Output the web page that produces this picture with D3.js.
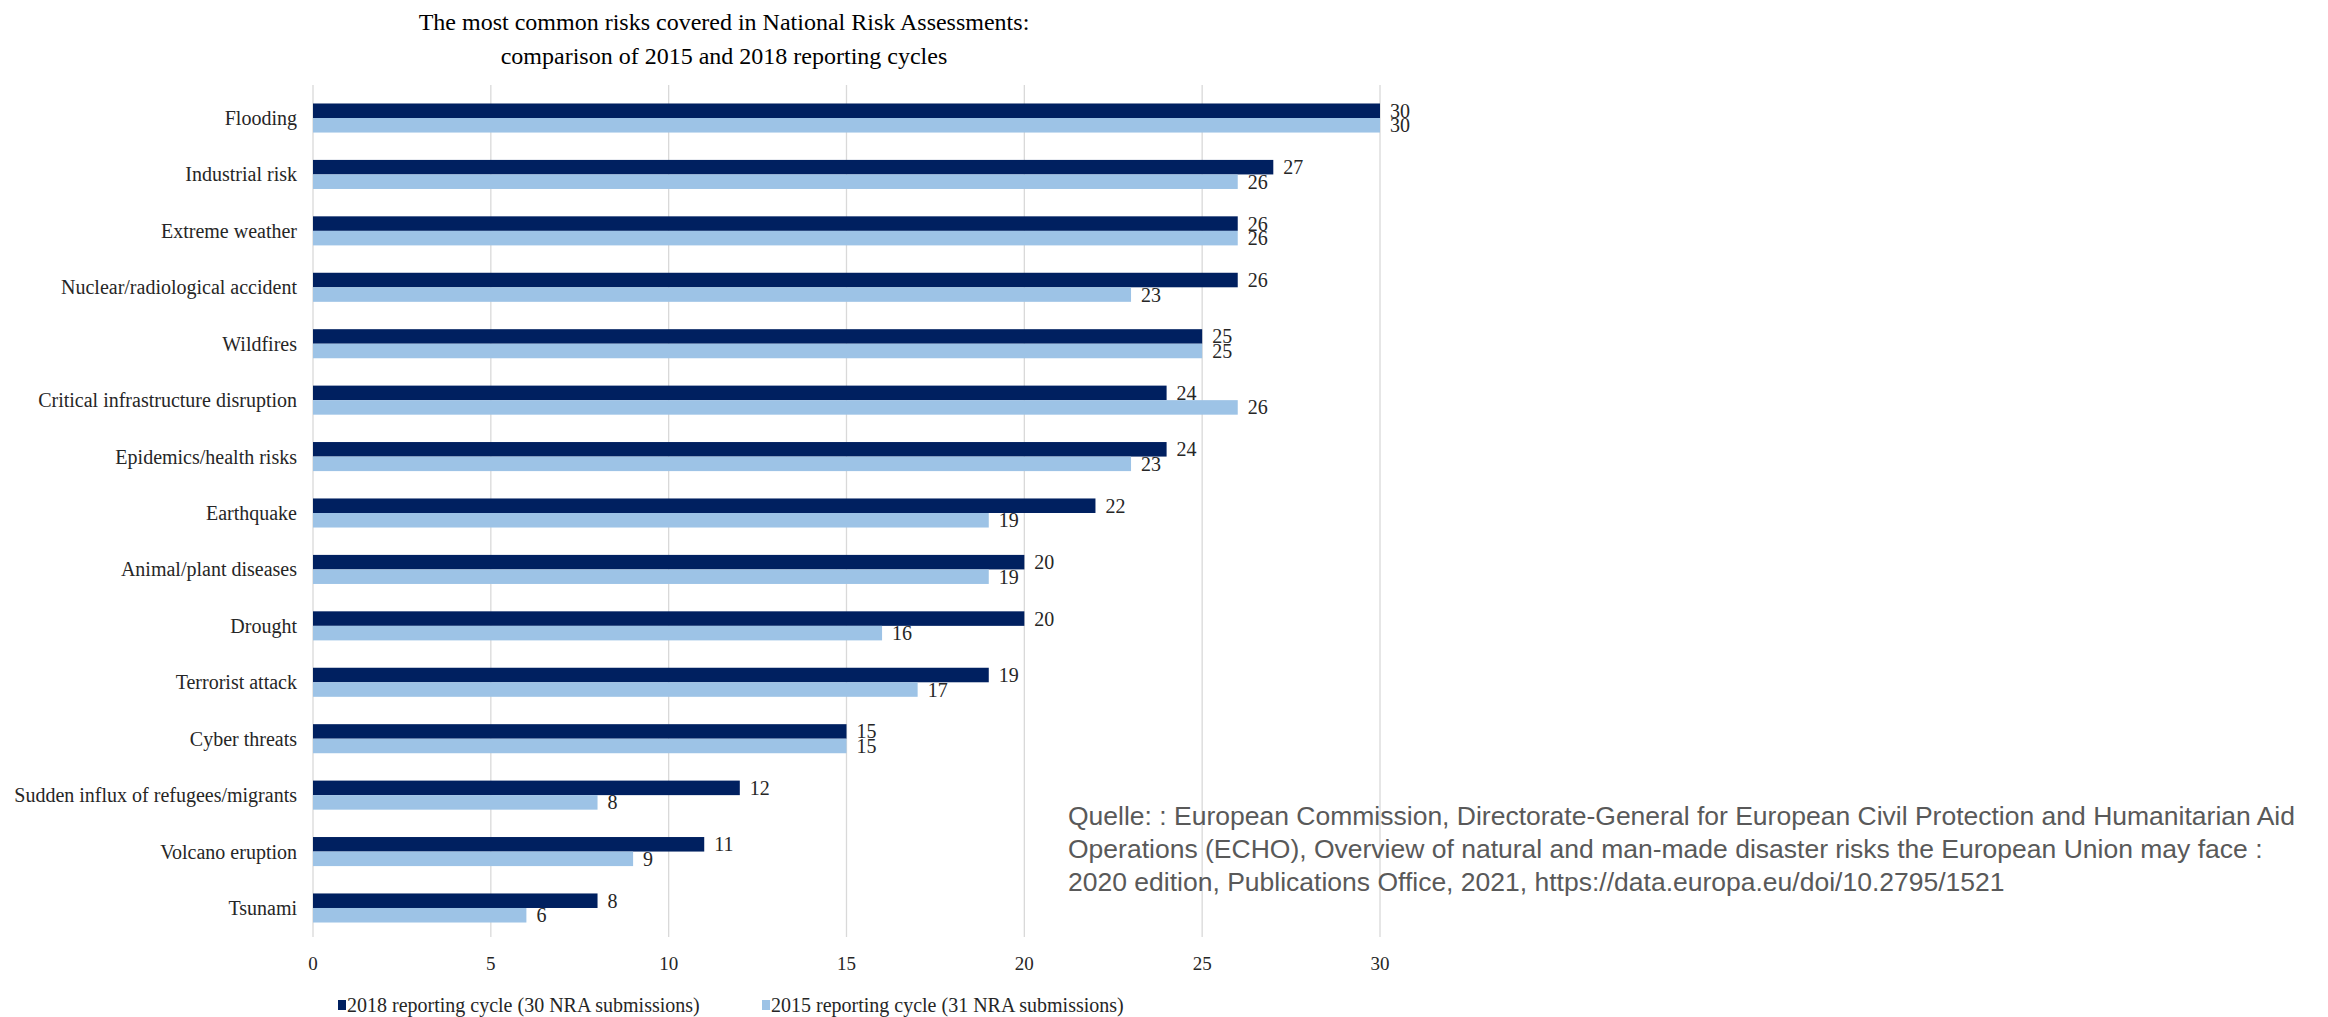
<!DOCTYPE html>
<html>
<head>
<meta charset="utf-8">
<script src="https://cdn.jsdelivr.net/npm/d3@7"></script>
<style>
  html, body { margin: 0; padding: 0; background: #fff; }
  svg { display: block; }
</style>
</head>
<body>
<svg id="chart" width="2328" height="1017"></svg>
<script>
const categories = [
  "Flooding", "Industrial risk", "Extreme weather", "Nuclear/radiological accident",
  "Wildfires", "Critical infrastructure disruption", "Epidemics/health risks",
  "Earthquake", "Animal/plant diseases", "Drought", "Terrorist attack",
  "Cyber threats", "Sudden influx of refugees/migrants", "Volcano eruption", "Tsunami"
];
const values2018 = [30, 27, 26, 26, 25, 24, 24, 22, 20, 20, 19, 15, 12, 11, 8];
const values2015 = [30, 26, 26, 23, 25, 26, 23, 19, 19, 16, 17, 15, 8, 9, 6];
const seriesNames = ["2018 reporting cycle (30 NRA submissions)", "2015 reporting cycle (31 NRA submissions)"];
const tickValues = [0, 5, 10, 15, 20, 25, 30];
const titleLines = [
  "The most common risks covered in National Risk Assessments:",
  "comparison of 2015 and 2018 reporting cycles"
];
const sourceLines = [
  "Quelle: : European Commission, Directorate-General for European Civil Protection and Humanitarian Aid",
  "Operations (ECHO), Overview of natural and man-made disaster risks the European Union may face :",
  "2020 edition, Publications Office, 2021, https://data.europa.eu/doi/10.2795/1521"
];

const colors = ["#002060", "#9DC3E6"];
const serif = "'Liberation Serif', 'Times New Roman', serif";
const sans = "'Liberation Sans', Arial, sans-serif";

const svg = d3.select("#chart");

const x = d3.scaleLinear().domain([0, 30]).range([313, 1380]);
const y = d3.scaleBand().domain(categories).range([89.8, 936.2]).paddingInner(0.485).paddingOuter(0.2425);
const ySub = d3.scaleBand().domain([0, 1]).range([0, y.bandwidth()]);

// Title
svg.append("g").selectAll("text").data(titleLines).join("text")
  .attr("x", 724).attr("y", (d, i) => 30 + i * 34)
  .attr("text-anchor", "middle")
  .style("font-family", serif).style("font-size", "24px").style("fill", "#000")
  .text(d => d);

// Gridlines
svg.append("g").selectAll("line").data(tickValues).join("line")
  .attr("x1", d => x(d)).attr("x2", d => x(d))
  .attr("y1", 85).attr("y2", 937)
  .attr("stroke", "#d9d9d9").attr("stroke-width", 1.3);

// Tick labels
svg.append("g").selectAll("text").data(tickValues).join("text")
  .attr("x", d => x(d)).attr("y", 970)
  .attr("text-anchor", "middle")
  .style("font-family", serif).style("font-size", "19px").style("fill", "#262626")
  .text(d => d);

// Category labels
svg.append("g").selectAll("text").data(categories).join("text")
  .attr("x", 297).attr("y", d => y(d) + y.bandwidth() / 2)
  .attr("dy", "0.35em")
  .attr("text-anchor", "end")
  .style("font-family", serif).style("font-size", "20px").style("fill", "#262626")
  .text(d => d);

// Bars
const rows = categories.map((c, i) => ({ c, vals: [values2018[i], values2015[i]] }));
const g = svg.append("g").selectAll("g").data(rows).join("g")
  .attr("transform", d => `translate(0,${y(d.c)})`);

g.selectAll("rect").data(d => d.vals.map((v, k) => ({ v, k }))).join("rect")
  .attr("x", x(0))
  .attr("y", d => ySub(d.k))
  .attr("width", d => x(d.v) - x(0))
  .attr("height", ySub.bandwidth())
  .attr("fill", d => colors[d.k]);

g.selectAll("text").data(d => d.vals.map((v, k) => ({ v, k }))).join("text")
  .attr("x", d => x(d.v) + 10)
  .attr("y", d => ySub(d.k) + ySub.bandwidth() / 2)
  .attr("dy", "0.35em")
  .style("font-family", serif).style("font-size", "20px").style("fill", "#262626")
  .text(d => d.v);

// Legend
const legendX = [338, 762];
const leg = svg.append("g").selectAll("g").data(seriesNames).join("g")
  .attr("transform", (d, i) => `translate(${legendX[i]},0)`);
leg.append("rect").attr("x", 0).attr("y", 1000).attr("width", 8).attr("height", 10)
  .attr("fill", (d, i) => colors[i]);
leg.append("text").attr("x", 9).attr("y", 1012)
  .style("font-family", serif).style("font-size", "20px").style("fill", "#262626")
  .text(d => d);

// Source
svg.append("g").selectAll("text").data(sourceLines).join("text")
  .attr("x", 1068).attr("y", (d, i) => 825 + i * 33)
  .style("font-family", sans).style("font-size", "26.5px").style("fill", "#595959")
  .text(d => d);
</script>
</body>
</html>
